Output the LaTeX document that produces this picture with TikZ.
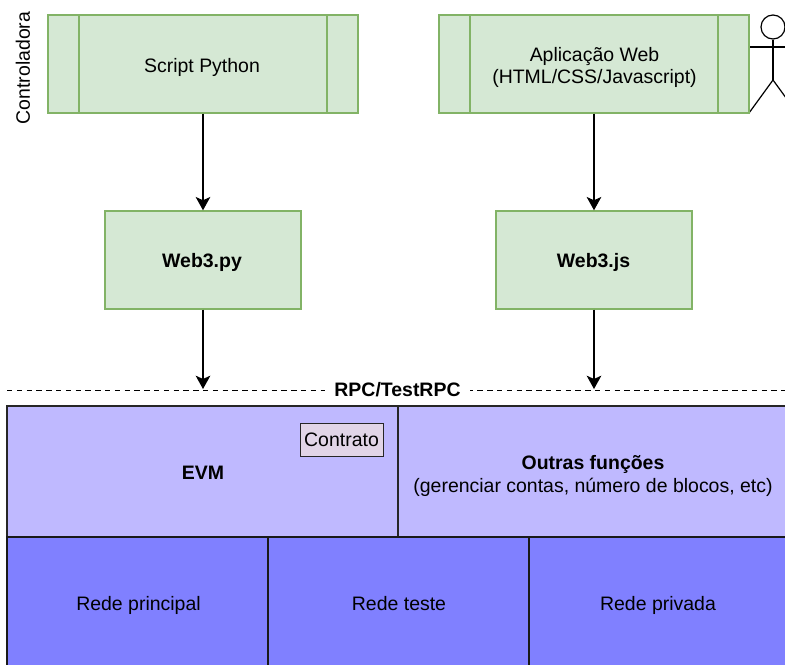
\documentclass[tikz,border=0pt]{standalone}
\usepackage{fontspec}
\setmainfont{Liberation Sans}
\usetikzlibrary{arrows.meta}
\definecolor{gfill}{HTML}{D5E8D4}
\definecolor{gline}{HTML}{82B366}
\definecolor{lilac}{HTML}{BFB9FF}
\definecolor{blue2}{HTML}{8080FF}
\definecolor{contr}{HTML}{E1D5E7}
\newcommand{\fs}{\fontsize{14.6pt}{17pt}\selectfont}
\tikzset{
  x=0.75pt,y=-0.75pt,
  gbox/.style={draw=gline,fill=gfill,line width=1.1pt,minimum height=73.5pt,inner sep=0pt,align=center,font=\fs},
  proc/.style={gbox,minimum width=232.5pt},
  lib/.style={gbox,minimum width=147pt,font=\fs\bfseries},
  block/.style={draw=black!85,line width=1pt,inner sep=0pt,align=center,font=\fs,minimum height=98.25pt},
  net/.style={draw=black!90,fill=blue2,line width=1pt,inner sep=0pt,minimum height=97.5pt,minimum width=195.75pt},
  label text/.style={inner sep=0pt,align=center,font=\fs},
  link/.style={draw=black,line width=0.9pt,-{Stealth[length=10pt,width=11pt,inset=2.5pt]}},
  divider/.style={draw=gline,line width=1.1pt},
  actor/.style={draw=black,line width=0.9pt},
}
\begin{document}
\begin{tikzpicture}
\useasboundingbox (0,0) rectangle (785,664);
\clip (0,0) rectangle (785,664);
\fill[white] (0,0) rectangle (785,664);
% Actor
\node[actor,circle,minimum size=18pt,inner sep=0pt] (head) at (773,27) {};
\coordinate (hip) at (773,80);
\coordinate (armL) at (749,47);
\coordinate (armR) at (797,47);
\coordinate (legL) at (749,113);
\coordinate (legR) at (797,113);
\draw[actor] (head.south) -- (hip);
\draw[actor] (armL) -- (armR);
\draw[actor] (legL) -- (hip) -- (legR);
% Top processes
\node[proc] (script) at (203,64) {};
\node[label text] (scriptText) at (202,67) {Script Python};
\draw[divider] (79,15) -- (79,113);
\draw[divider] (327,15) -- (327,113);
\node[proc] (app) at (594,64) {};
\node[label text] (appText) at (594.5,67.5) {Aplicação Web\\(HTML/CSS/Javascript)};
\draw[divider] (470,15) -- (470,113);
\draw[divider] (718,15) -- (718,113);
\node[rotate=90,font=\fs] (ctrl) at (23,68) {Controladora};
% Libraries
\node[lib] (py) at (203,260) {};
\node[label text,font=\fs\bfseries] (pyText) at (202,262) {Web3.py};
\node[lib] (js) at (594,260) {};
\node[label text,font=\fs\bfseries] (jsText) at (593.5,262) {Web3.js};
% RPC line
\coordinate (dashL) at (7,390);
\coordinate (dashR) at (785,390);
\draw[black,line width=0.75pt,dash pattern=on 4pt off 3.35pt] (dashL) -- (dashR);
\node[fill=white,font=\fs\bfseries,inner xsep=7pt,inner ysep=0pt,minimum height=15pt] (rpc) at (397.5,390) {RPC/TestRPC};
\coordinate (pyEnd) at (203,389);
\coordinate (jsEnd) at (594,389);
\draw[link] (script) -- (py);
\draw[link] (app) -- (js);
\draw[link] (py) -- (pyEnd);
\draw[link] (js) -- (jsEnd);
% Blocks
\node[block,fill=lilac,minimum width=293.25pt] (evm) at (202.5,471.5) {};
\node[label text,font=\fs\bfseries] (evmText) at (203,473) {EVM};
\node[block,fill=lilac,minimum width=293.25pt] (other) at (593.5,471.5) {};
\node[label text] (otherText) at (593,476) {\textbf{Outras funções}\\(gerenciar contas, número de blocos, etc)};
\node[draw=black!85,fill=contr,line width=0.75pt,minimum width=62.25pt,minimum height=24.75pt,inner sep=0pt,font=\fs] (contrato) at (341.5,439.5) {Contrato};
\node[net] (r1) at (137.5,602) {};
\node[net] (r2) at (398.5,602) {};
\node[net] (r3) at (659.5,602) {};
\node[label text] (r1t) at (138.5,605) {Rede principal};
\node[label text] (r2t) at (399,604) {Rede teste};
\node[label text] (r3t) at (658,605) {Rede privada};
\end{tikzpicture}
\end{document}
